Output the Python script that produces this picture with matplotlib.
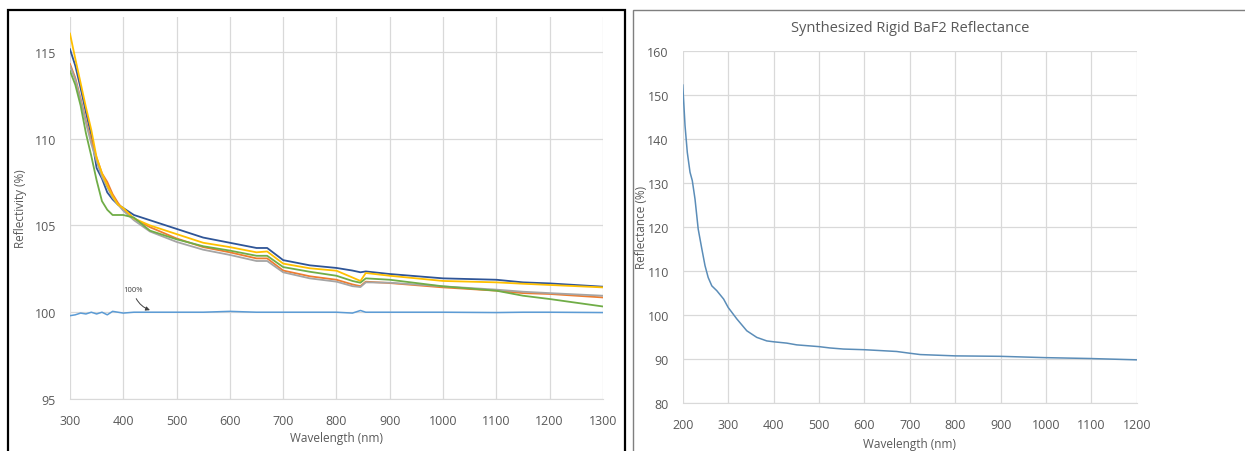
import matplotlib.pyplot as plt
from matplotlib.patches import Rectangle

plt.rcParams['font.family'] = ['Open Sans', 'DejaVu Sans']

# Left chart: reflectivity of several samples, plus the 100% reference
wl = [300, 310, 320, 330, 340, 350, 360, 370, 380, 390, 400, 420, 450,
      500, 550, 600, 650, 670, 700, 750, 800, 830, 845, 855, 900, 1000,
      1100, 1150, 1200, 1300]
dark_blue = [115.15, 114.2, 112.9, 111.5, 110.2, 108.3, 107.7, 106.9, 106.5,
             106.2, 106.0, 105.6, 105.3, 104.8, 104.3, 104.0, 103.7, 103.7,
             103.0, 102.7, 102.55, 102.4, 102.3, 102.35, 102.2, 101.95,
             101.87, 101.72, 101.66, 101.47]
yellow = [116.05, 114.6, 113.2, 111.8, 110.5, 108.9, 108.0, 107.3, 106.7,
          106.2, 106.0, 105.4, 105.0, 104.5, 104.0, 103.75, 103.45, 103.5,
          102.8, 102.53, 102.39, 102.0, 101.8, 102.26, 102.1, 101.8, 101.72,
          101.64, 101.57, 101.43]
orange = [114.3, 113.5, 112.3, 111.0, 109.9, 108.9, 108.0, 107.5, 106.8,
          106.3, 105.9, 105.4, 104.9, 104.25, 103.75, 103.45, 103.1, 103.1,
          102.4, 102.07, 101.87, 101.6, 101.5, 101.76, 101.68, 101.43, 101.24,
          101.1, 101.05, 100.85]
gray = [114.2, 113.4, 112.2, 110.9, 109.7, 108.7, 107.8, 107.2, 106.6,
        106.2, 105.85, 105.3, 104.65, 104.05, 103.6, 103.3, 102.95, 102.95,
        102.3, 101.95, 101.76, 101.5, 101.45, 101.72, 101.7, 101.49, 101.3,
        101.18, 101.1, 100.95]
green = [113.9, 113.1, 111.9, 110.3, 109.0, 107.6, 106.4, 105.9, 105.6,
         105.6, 105.6, 105.45, 104.7, 104.2, 103.8, 103.55, 103.25, 103.25,
         102.6, 102.33, 102.1, 101.8, 101.7, 101.95, 101.87, 101.49, 101.24,
         100.95, 100.76, 100.33]
ref_100 = [99.8, 99.85, 99.95, 99.9, 100.0, 99.9, 100.0, 99.85, 100.05,
           100.0, 99.95, 100.0, 100.0, 100.0, 100.0, 100.05, 100.0, 100.0,
           100.0, 100.0, 100.0, 99.95, 100.1, 100.0, 100.0, 100.0, 99.98,
           100.0, 100.0, 99.98]

# Right chart: synthesized rigid BaF2 reflectance
baf2_wl = [200, 205, 210, 216, 221, 227, 234, 242, 249, 256, 264, 275, 290,
           300, 319, 341, 363, 385, 400, 429, 451, 500, 524, 554, 600, 627,
           671, 700, 723, 800, 899, 998, 1097, 1200]
baf2_refl = [152.2, 143.0, 136.9, 132.4, 130.5, 126.3, 119.5, 115.0, 111.2,
             108.5, 106.6, 105.5, 103.6, 101.7, 99.1, 96.4, 94.9, 94.1, 93.9,
             93.6, 93.2, 92.8, 92.5, 92.25, 92.1, 91.95, 91.7, 91.3, 91.0,
             90.7, 90.6, 90.3, 90.1, 89.8]

text_color = '#595959'
grid_color = '#D9D9D9'

fig = plt.figure(figsize=(12.45, 4.52), dpi=100)


def excel_style(ax):
    # Excel-like look: light grid, no box, gray tick labels
    for side in ['top', 'right', 'left']:
        ax.spines[side].set_visible(False)
    ax.spines['bottom'].set_color(grid_color)
    ax.grid(True, color=grid_color, linewidth=0.9)
    ax.set_axisbelow(True)
    ax.tick_params(length=0, colors=text_color, labelsize=9)
    ax.tick_params(axis='x', pad=11)
    ax.tick_params(axis='y', pad=10)


# Left panel
ax1 = fig.add_axes([0.0562, 0.115, 0.4281, 0.845])
excel_style(ax1)
ax1.plot(wl, dark_blue, color='#2F5597', lw=1.3)
ax1.plot(wl, orange, color='#ED7D31', lw=1.3)
ax1.plot(wl, gray, color='#A5A5A5', lw=1.3)
ax1.plot(wl, yellow, color='#FFC000', lw=1.3)
ax1.plot(wl, green, color='#70AD47', lw=1.3)
ax1.plot(wl, ref_100, color='#5B9BD5', lw=1.1)
ax1.set_xlim(300, 1300)
ax1.set_ylim(95, 117)
ax1.set_xticks(range(300, 1301, 100))
ax1.set_yticks(range(95, 116, 5))
ax1.set_xlabel('Wavelength (nm)', color=text_color, fontsize=8.5)
ax1.set_ylabel('Reflectivity (%)', color=text_color, fontsize=8.5)
ax1.xaxis.set_label_coords(0.5, -0.084)
ax1.yaxis.set_label_coords(-0.081, 0.5)
ax1.annotate('100%', xy=(455, 100.07), xytext=(400, 101.2),
             fontsize=5.5, color='#404040',
             arrowprops=dict(arrowstyle='-|>', color='#404040', lw=0.7,
                             mutation_scale=6,
                             connectionstyle='arc3,rad=0.3'))

# Right panel
ax2 = fig.add_axes([0.5484, 0.1062, 0.3647, 0.7794])
excel_style(ax2)
ax2.plot(baf2_wl, baf2_refl, color='#5B8DB8', lw=1.1)
ax2.set_xlim(200, 1200)
ax2.set_ylim(80, 160)
ax2.set_xticks(range(200, 1201, 100))
ax2.set_yticks(range(80, 161, 10))
ax2.set_xlabel('Wavelength (nm)', color=text_color, fontsize=8.5)
ax2.set_ylabel('Reflectance (%)', color=text_color, fontsize=8.5)
ax2.xaxis.set_label_coords(0.5, -0.097)
ax2.yaxis.set_label_coords(-0.076, 0.5)
ax2.set_title('Synthesized Rigid BaF2 Reflectance', color=text_color,
              fontsize=10.5, pad=14)

# Panel frames
fig.patches.append(Rectangle((8 / 1245, -0.05), 617 / 1245, 1.0263,
                             transform=fig.transFigure, fill=False,
                             edgecolor='black', lw=1.6))
fig.patches.append(Rectangle((633 / 1245, -0.05), 620 / 1245, 1.0263,
                             transform=fig.transFigure, fill=False,
                             edgecolor='#7F7F7F', lw=1.0))

plt.savefig('out.png', dpi=100)
